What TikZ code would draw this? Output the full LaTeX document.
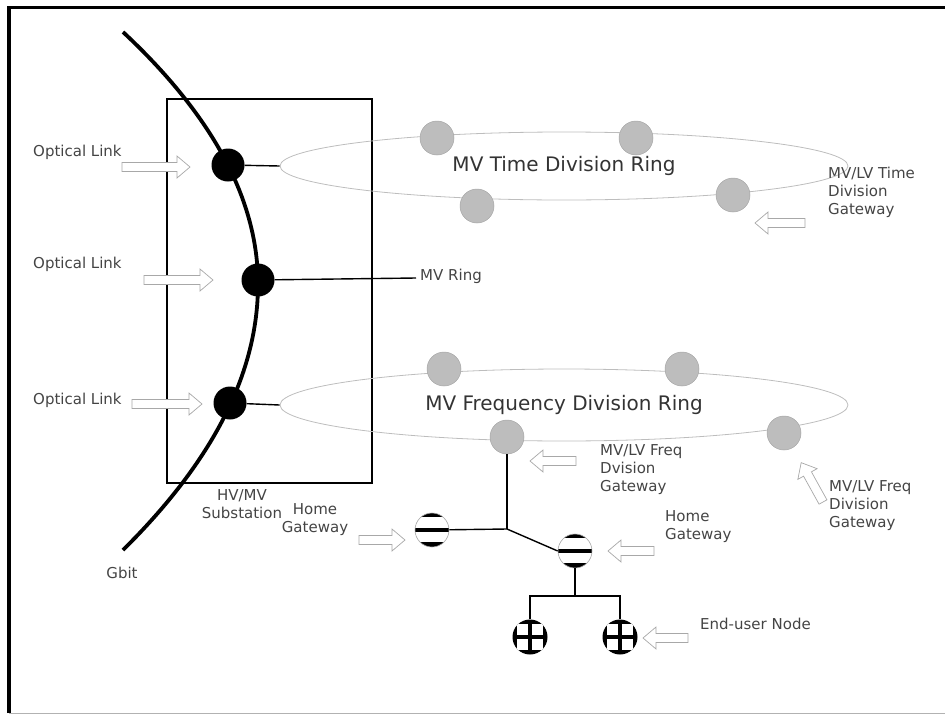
\documentclass[tikz,border=0pt]{standalone}
\usepackage{fontspec}
\setmainfont{DejaVu Sans}
\usetikzlibrary{shapes.geometric}

\definecolor{ringgray}{HTML}{BDBDBD}
\definecolor{nodegray}{HTML}{BDBDBD}
\definecolor{nodeedge}{HTML}{A6A6A6}
\definecolor{labelgray}{HTML}{444444}
\definecolor{titlegray}{HTML}{333333}
\definecolor{arrowgray}{HTML}{A8A8A8}

\tikzset{
  lbl/.style={text=labelgray, font=\fontsize{15}{18}\selectfont, inner sep=0pt, align=left},
  clbl/.style={lbl, align=center},
  ring/.style={ellipse, draw=ringgray, line width=0.8pt, inner sep=0pt,
    minimum width=568pt, text=titlegray, font=\fontsize{20}{23}\selectfont},
  core/.style={circle, fill=black, minimum size=33pt, inner sep=0pt},
  station/.style={circle, fill=nodegray, draw=nodeedge, line width=0.5pt,
    minimum size=34pt, inner sep=0pt},
  homegw/.style={circle, draw=nodeedge, fill=white, line width=0.6pt,
    minimum size=34pt, inner sep=0pt,
    path picture={
      \fill[black] (path picture bounding box.north west) rectangle
        ([yshift=-3.5pt]path picture bounding box.north east);
      \fill[black] ([yshift=-1.7pt]path picture bounding box.west) rectangle
        ([yshift=1.7pt]path picture bounding box.east);
      \fill[black] (path picture bounding box.south west) rectangle
        ([yshift=5pt]path picture bounding box.south east);
    }},
  enduser/.style={circle, fill=black, minimum size=35pt, inner sep=0pt,
    path picture={
      \foreach \sx/\sy in {1/1,1/-1,-1/1,-1/-1}
        \fill[white] ([xshift=\sx*2.3pt, yshift=\sy*2.3pt]path picture bounding box.center)
          rectangle ([xshift=\sx*12.6pt, yshift=\sy*12.6pt]path picture bounding box.center);
    }},
  link/.style={black, line width=1.4pt},
  backbone/.style={black, line width=3.8pt},
  hollow/.style={draw=arrowgray, fill=white, line width=0.7pt, line join=miter},
  pics/pointer/.style={code={
    \path[hollow] (0,-4.5) -- (#1-13,-4.5) -- (#1-13,-11) -- (#1,0)
      -- (#1-13,11) -- (#1-13,4.5) -- (0,4.5) -- cycle;}}
}

\begin{document}
\begin{tikzpicture}[x=1pt, y=-1pt]
  \useasboundingbox (0,0) rectangle (945,715);

  % outer frame
  \draw[line width=3.2pt, line join=miter] (9,713) -- (9,7.7) -- (945,7.7);
  \draw[black!30, line width=1pt] (9,713.5) -- (945,713.5);

  % HV/MV substation box
  \draw[black, line width=1.3pt] (167,99) rectangle (372,483);

  % the two MV rings
  \node[ring, minimum height=68pt] (ring1) at (564,166) {MV Time Division Ring};
  \node[ring, minimum height=72pt] (ring2) at (564,405) {MV Frequency Division Ring};

  % Gbit backbone with its three core nodes
  \coordinate (gtop) at (123,32);
  \coordinate (gmid) at (258,284);
  \coordinate (gbot) at (123,550);
  \draw[backbone] (gtop) .. controls (213,116) and (258,200) .. (gmid)
                         .. controls (258,373) and (213,461) .. (gbot);
  \node[core] (d1) at (228,165) {};
  \node[core] (d2) at (258,280) {};
  \node[core] (d3) at (230,403) {};

  % links from the substation
  \coordinate (mvring) at (416,278);
  \draw[link] (d1) -- (ring1.west);
  \draw[link] (d2) -- (mvring);
  \draw[link] (d3) -- (ring2.west);

  % stations on the rings
  \node[station] (r1a) at (437,138) {};
  \node[station] (r1b) at (636,138) {};
  \node[station] (r1c) at (477,206) {};
  \node[station] (r1d) at (733,195) {};
  \node[station] (r2a) at (444,369) {};
  \node[station] (r2b) at (682,369) {};
  \node[station] (r2c) at (507,437) {};
  \node[station] (r2d) at (784,433) {};

  % low-voltage tree
  \coordinate (j) at (507,529);
  \node[homegw] (hg1) at (432,530) {};
  \node[homegw] (hg2) at (575,551) {};
  \node[enduser] (eu1) at (530,637) {};
  \node[enduser] (eu2) at (620,637) {};
  \coordinate (b) at (575,596);
  \draw[link] (r2c) -- (j);
  \draw[link] (j) -- (hg1);
  \draw[link] (j) -- (hg2.west);
  \draw[link] (hg2) -- (b);
  \draw[link] (eu1.north) |- (b) -| (eu2.north);

  % labels
  \node[lbl, anchor=west] (ol1) at (33,152) {Optical Link};
  \node[lbl, anchor=west] (ol2) at (33,264) {Optical Link};
  \node[lbl, anchor=west] (ol3) at (33,400) {Optical Link};
  \node[lbl, anchor=west] (mvr) at (420,276) {MV Ring};
  \node[lbl, anchor=west] (tgw) at (828,192) {MV/LV Time\\Division\\Gateway};
  \node[lbl, anchor=west] (fgw1) at (600,470) {MV/LV Freq\\Dvision\\Gateway};
  \node[lbl, anchor=west] (fgw2) at (829,506) {MV/LV Freq\\Division\\Gateway};
  \node[lbl, anchor=west] (hgl2) at (665,527) {Home\\Gateway};
  \node[lbl, anchor=west] (eul) at (700,624) {End-user Node};
  \node[clbl] (hgl1) at (315,520) {Home\\Gateway};
  \node[clbl] (sub) at (242,504) {HV/MV\\Substation};
  \node[lbl] (gbit) at (122,573) {Gbit};

  % hollow pointer arrows
  \pic at (122,167) {pointer=68};
  \pic at (144,280) {pointer=69};
  \pic at (132,404) {pointer=70};
  \pic[rotate=180] at (805,223) {pointer=50};
  \pic[rotate=180] at (576,461) {pointer=46};
  \pic[rotate=119] at (823,502) {pointer=45};
  \pic[rotate=180] at (654,551) {pointer=46};
  \pic[rotate=180] at (688,638) {pointer=45};
  \pic at (359,540) {pointer=46};
\end{tikzpicture}
\end{document}
